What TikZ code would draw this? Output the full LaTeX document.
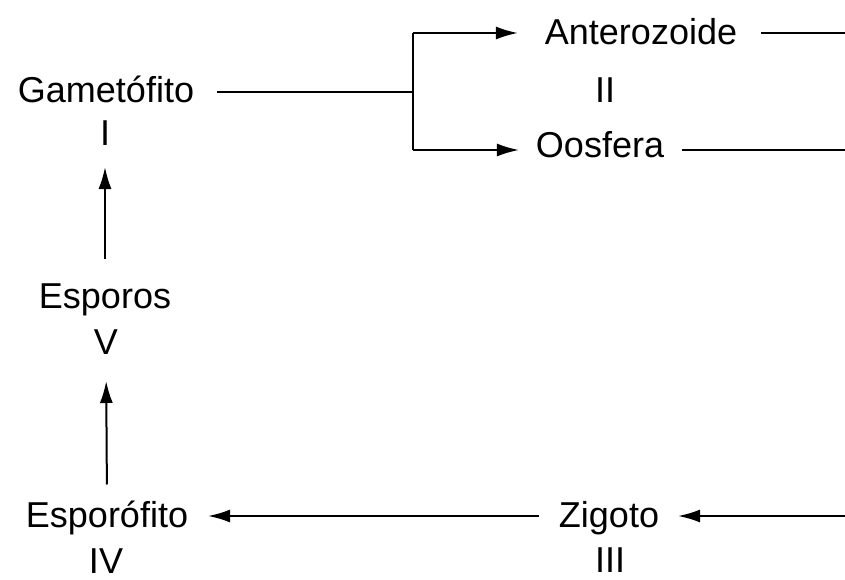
\documentclass[tikz,border=0pt]{standalone}
\usepackage{fontspec}
\setmainfont{Liberation Sans}
\usetikzlibrary{arrows.meta}
\begin{document}
\begin{tikzpicture}[x=1pt,y=-1pt,
  lbl/.style={inner sep=0pt,outer sep=0pt,anchor=base,font=\fontsize{36}{40}\selectfont},
  conn/.style={line width=2pt},
  arr/.style={conn,-{Latex[length=22pt,width=13pt]}}]
\useasboundingbox (0,0) rectangle (845,580);
% labels
\node[lbl] (gam)  at (106,103) {Gametófito};
\node[lbl] (gamn) at (105,146) {I};
\node[lbl] (ant)  at (641,45)  {Anterozoide};
\node[lbl] (antn) at (605,103) {II};
\node[lbl] (oos)  at (600,158) {Oosfera};
\node[lbl] (zig)  at (609,527) {Zigoto};
\node[lbl] (zign) at (610,572) {III};
\node[lbl] (esp)  at (105,308) {Esporos};
\node[lbl] (espn) at (106,354) {V};
\node[lbl] (spf)  at (107,527) {Esporófito};
\node[lbl] (spfn) at (106,573) {IV};
% junction and edge coordinates
\coordinate (br) at (413,92);
\coordinate (bt) at (413,33);
\coordinate (bb) at (413,150);
\coordinate (r1) at (845,33);
\coordinate (r2) at (845,150);
\coordinate (r3) at (845,516);
% connectors
\draw[conn,shorten <=23pt] (gam.east |- br) -- (br);
\draw[conn] (bt) -- (bb);
\draw[arr,shorten >=27pt] (bt) -- (ant.west |- bt);
\draw[arr,shorten >=17pt] (bb) -- (oos.west |- bb);
\draw[conn,shorten <=24pt] (ant.east |- r1) -- (r1);
\draw[conn,shorten <=18pt] (oos.east |- r2) -- (r2);
\draw[arr,shorten >=19pt] (r3) -- (zig.east |- r3);
\draw[arr,shorten <=20pt,shorten >=20pt] (zig.west |- r3) -- (spf.east |- r3);
\draw[arr,shorten <=24pt,shorten >=21pt] (esp.north) -- (gamn.south);
\draw[arr,shorten <=16pt,shorten >=27pt] (spf.north) -- (espn.south);
\end{tikzpicture}
\end{document}
